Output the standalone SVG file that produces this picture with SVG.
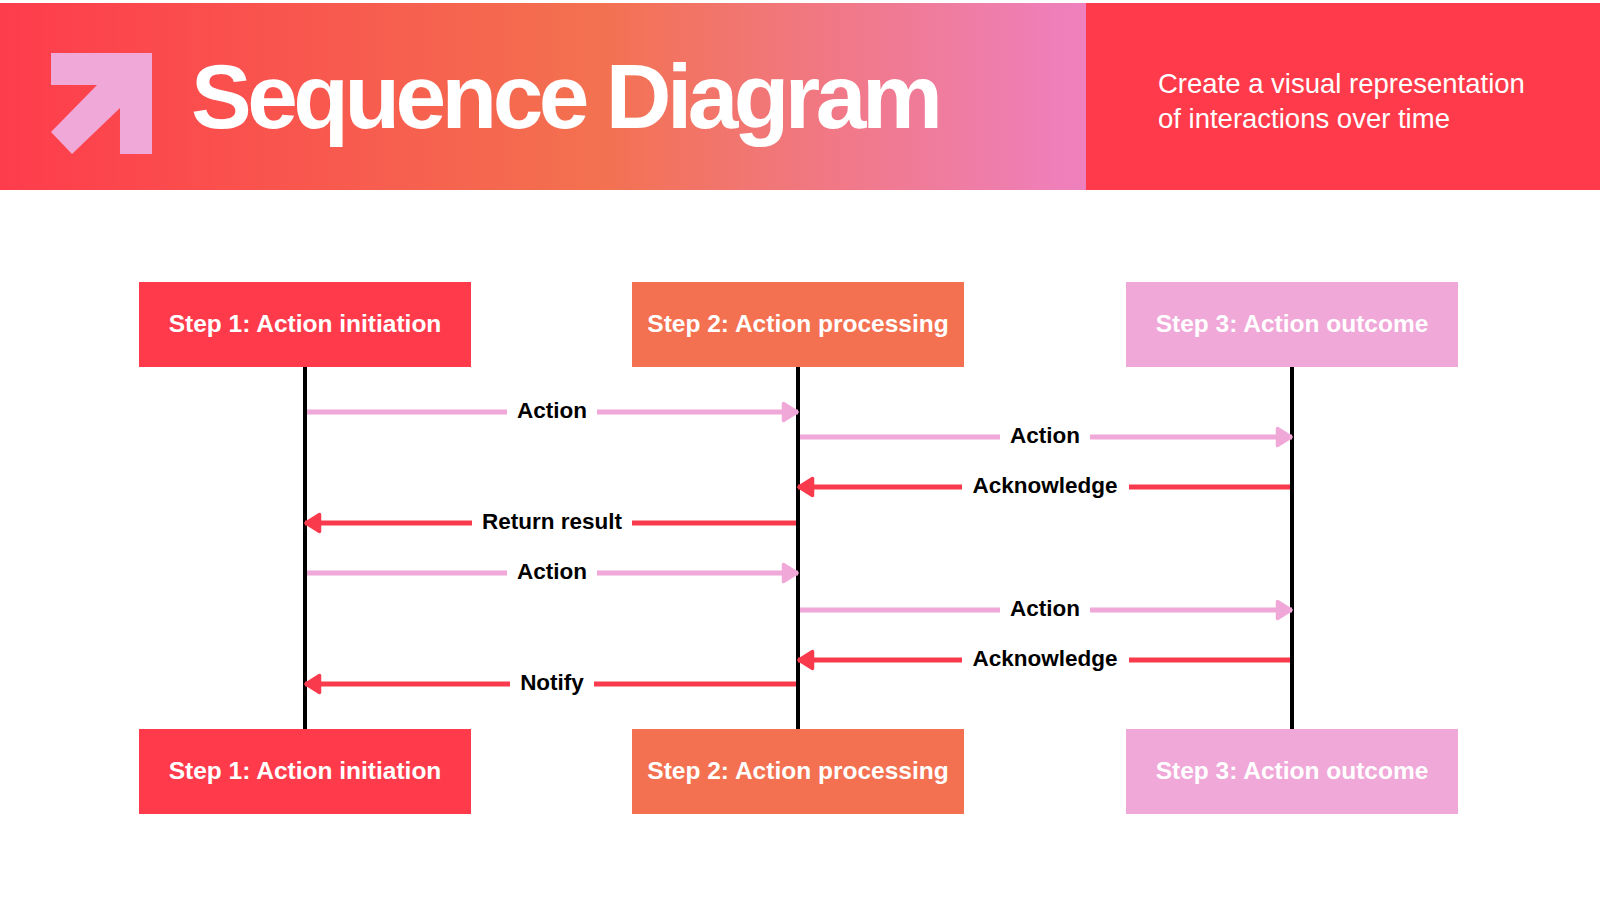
<svg xmlns="http://www.w3.org/2000/svg" width="1600" height="900" viewBox="0 0 1600 900">
  <defs>
    <linearGradient id="hdr" x1="0" y1="0" x2="1" y2="0">
      <stop offset="0" stop-color="#FE3C4C"/>
      <stop offset="0.55" stop-color="#F37150"/>
      <stop offset="1" stop-color="#EE80BF"/>
    </linearGradient>
    <marker id="ahPink" viewBox="0 0 18 22" refX="17" refY="11" markerWidth="18" markerHeight="22" markerUnits="userSpaceOnUse" orient="auto">
      <path d="M2.5 2.5 L16 11 L2.5 19.5 Z" fill="#F0A8D8" stroke="#F0A8D8" stroke-width="3.5" stroke-linejoin="round"/>
    </marker>
    <marker id="ahRed" viewBox="0 0 18 22" refX="17" refY="11" markerWidth="18" markerHeight="22" markerUnits="userSpaceOnUse" orient="auto">
      <path d="M2.5 2.5 L16 11 L2.5 19.5 Z" fill="#F93A4D" stroke="#F93A4D" stroke-width="3.5" stroke-linejoin="round"/>
    </marker>
  </defs>
  <style>
    .box-red { fill: #FF3B4B; }
    .box-orange { fill: #F37150; }
    .box-pink { fill: #F0A8D8; }
    .box-label { font-family: "Liberation Sans", Arial, sans-serif; font-weight: bold; font-size: 24.5px; fill: #FFFFFF; text-anchor: middle; }
    .lifeline { stroke: #000000; stroke-width: 4; }
    .msg-pink { stroke: #F0A8D8; stroke-width: 5; fill: none; }
    .msg-red { stroke: #F93A4D; stroke-width: 5; fill: none; }
    .msg-label { font-family: "Liberation Sans", Arial, sans-serif; font-weight: bold; font-size: 22.5px; fill: #000000; text-anchor: middle; }
    .label-bg { fill: #FFFFFF; }
  </style>

  <rect x="0" y="0" width="1600" height="900" fill="#FFFFFF"/>

  <g id="header">
    <rect x="0" y="3" width="1087" height="187" fill="url(#hdr)"/>
    <rect x="1086" y="3" width="514" height="187" fill="#FF3B4B"/>
    <polygon points="51,53 152,53 152,154 120,154 120,108 72,154 51,132 97,85 51,85" fill="#F0A8D8"/>
    <text x="191" y="128" font-family="'Liberation Sans', Arial, sans-serif" font-weight="bold" font-size="91" letter-spacing="-4.5" fill="#FFFFFF">Sequence Diagram</text>
    <text font-family="'Liberation Sans', Arial, sans-serif" font-size="27.5" fill="#FFFFFF">
      <tspan x="1158" y="93">Create a visual representation</tspan>
      <tspan x="1158" y="128">of interactions over time</tspan>
    </text>
  </g>

  <g id="lifelines">
    <line class="lifeline" x1="305" y1="367" x2="305" y2="729"/>
    <line class="lifeline" x1="798" y1="367" x2="798" y2="729"/>
    <line class="lifeline" x1="1292" y1="367" x2="1292" y2="729"/>
  </g>

  <g id="step1-top">
    <rect class="box-red" x="139" y="282" width="332" height="85"/>
    <text class="box-label" x="305" y="332">Step 1: Action initiation</text>
  </g>
  <g id="step2-top">
    <rect class="box-orange" x="632" y="282" width="332" height="85"/>
    <text class="box-label" x="798" y="332">Step 2: Action processing</text>
  </g>
  <g id="step3-top">
    <rect class="box-pink" x="1126" y="282" width="332" height="85"/>
    <text class="box-label" x="1292" y="332">Step 3: Action outcome</text>
  </g>
  <g id="step1-bottom">
    <rect class="box-red" x="139" y="729" width="332" height="85"/>
    <text class="box-label" x="305" y="779">Step 1: Action initiation</text>
  </g>
  <g id="step2-bottom">
    <rect class="box-orange" x="632" y="729" width="332" height="85"/>
    <text class="box-label" x="798" y="779">Step 2: Action processing</text>
  </g>
  <g id="step3-bottom">
    <rect class="box-pink" x="1126" y="729" width="332" height="85"/>
    <text class="box-label" x="1292" y="779">Step 3: Action outcome</text>
  </g>

  <g id="connectors">
    <line class="msg-pink" x1="307" y1="412" x2="798" y2="412" marker-end="url(#ahPink)"/>
    <rect class="label-bg" x="507" y="398" width="90" height="28"/>
    <text class="msg-label" x="552" y="418">Action</text>

    <line class="msg-pink" x1="800" y1="437" x2="1292" y2="437" marker-end="url(#ahPink)"/>
    <rect class="label-bg" x="1000" y="423" width="90" height="28"/>
    <text class="msg-label" x="1045" y="443">Action</text>

    <line class="msg-red" x1="1290" y1="487" x2="798" y2="487" marker-end="url(#ahRed)"/>
    <rect class="label-bg" x="962" y="473" width="167" height="28"/>
    <text class="msg-label" x="1045" y="493">Acknowledge</text>

    <line class="msg-red" x1="796" y1="523" x2="305" y2="523" marker-end="url(#ahRed)"/>
    <rect class="label-bg" x="472" y="509" width="160" height="28"/>
    <text class="msg-label" x="552" y="529">Return result</text>

    <line class="msg-pink" x1="307" y1="573" x2="798" y2="573" marker-end="url(#ahPink)"/>
    <rect class="label-bg" x="507" y="559" width="90" height="28"/>
    <text class="msg-label" x="552" y="579">Action</text>

    <line class="msg-pink" x1="800" y1="610" x2="1292" y2="610" marker-end="url(#ahPink)"/>
    <rect class="label-bg" x="1000" y="596" width="90" height="28"/>
    <text class="msg-label" x="1045" y="616">Action</text>

    <line class="msg-red" x1="1290" y1="660" x2="798" y2="660" marker-end="url(#ahRed)"/>
    <rect class="label-bg" x="962" y="646" width="167" height="28"/>
    <text class="msg-label" x="1045" y="666">Acknowledge</text>

    <line class="msg-red" x1="796" y1="684" x2="305" y2="684" marker-end="url(#ahRed)"/>
    <rect class="label-bg" x="510" y="670" width="84" height="28"/>
    <text class="msg-label" x="552" y="690">Notify</text>
  </g>
</svg>
